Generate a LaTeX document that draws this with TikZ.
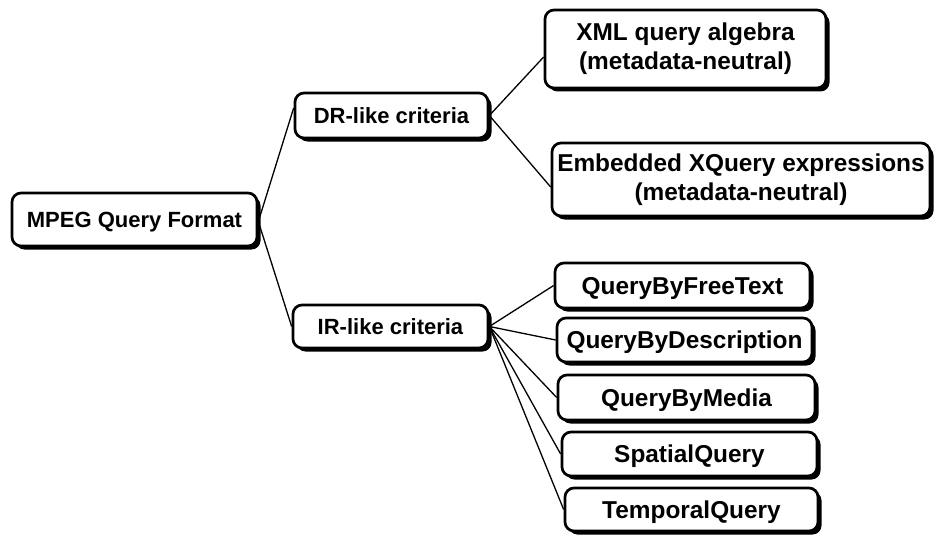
\documentclass[tikz,border=0pt]{standalone}
\usepackage{fontspec}
\setmainfont{Liberation Sans}
\usetikzlibrary{shadows}

\tikzset{
  box/.style={draw, line width=2.7pt, rounded corners=9pt, fill=white,
    inner sep=0pt, align=center, font=\bfseries,
    drop shadow={shadow xshift=3.5pt, shadow yshift=-3.5pt, fill=black, opacity=1}},
  upper/.style={box, font=\fontsize{22}{26}\selectfont\bfseries, text height=15.8pt, text depth=0pt},
  leaf/.style={box, font=\fontsize{24.4}{29}\selectfont\bfseries},
  oneline/.style={text height=17.5pt, text depth=0pt},
  link/.style={draw, line width=1.3pt}
}

\begin{document}
\begin{tikzpicture}[x=1pt, y=-1pt]
  \useasboundingbox (0,0) rectangle (935,535);

  % root and the two criteria groups
  \node[upper, minimum width=245pt, minimum height=53pt] (mpeg) at (134.5,219.5) {MPEG Query Format};
  \node[upper, minimum width=193pt, minimum height=45pt] (dr) at (391.5,115.5) {DR-like criteria};
  \node[upper, minimum width=195pt, minimum height=43pt] (ir) at (390.5,326.5) {IR-like criteria};

  % DR-like children
  \node[leaf, minimum width=281pt, minimum height=78pt] (xml) at (685.5,49) {XML query algebra\\(metadata-neutral)};
  \node[leaf, minimum width=378pt, minimum height=73pt] (emb) at (741,179.5) {Embedded XQuery expressions\\(metadata-neutral)};

  % IR-like children
  \node[leaf, oneline, minimum width=255pt, minimum height=45pt] (free) at (682.5,285.5) {QueryByFreeText};
  \node[leaf, oneline, minimum width=255pt, minimum height=44pt] (desc) at (684.5,340) {QueryByDescription};
  \node[leaf, oneline, minimum width=257pt, minimum height=45pt] (media) at (686.5,397.5) {QueryByMedia};
  \node[leaf, oneline, minimum width=255pt, minimum height=44pt] (spat) at (689.5,454) {SpatialQuery};
  \node[leaf, oneline, minimum width=253pt, minimum height=43pt] (temp) at (691.5,509.5) {TemporalQuery};

  % connectors
  \path[link] ([yshift=-2pt]mpeg.east) -- ([yshift=7.5pt]dr.west);
  \path[link] ([yshift=-2pt]mpeg.east) -- (ir.west);
  \path[link] (dr.east) -- ([yshift=-8pt]xml.west);
  \path[link] (dr.east) -- ([yshift=-7.5pt]emb.west);
  \foreach \n in {free,desc,media,spat,temp}
    \path[link] (ir.east) -- (\n.west);
\end{tikzpicture}
\end{document}
